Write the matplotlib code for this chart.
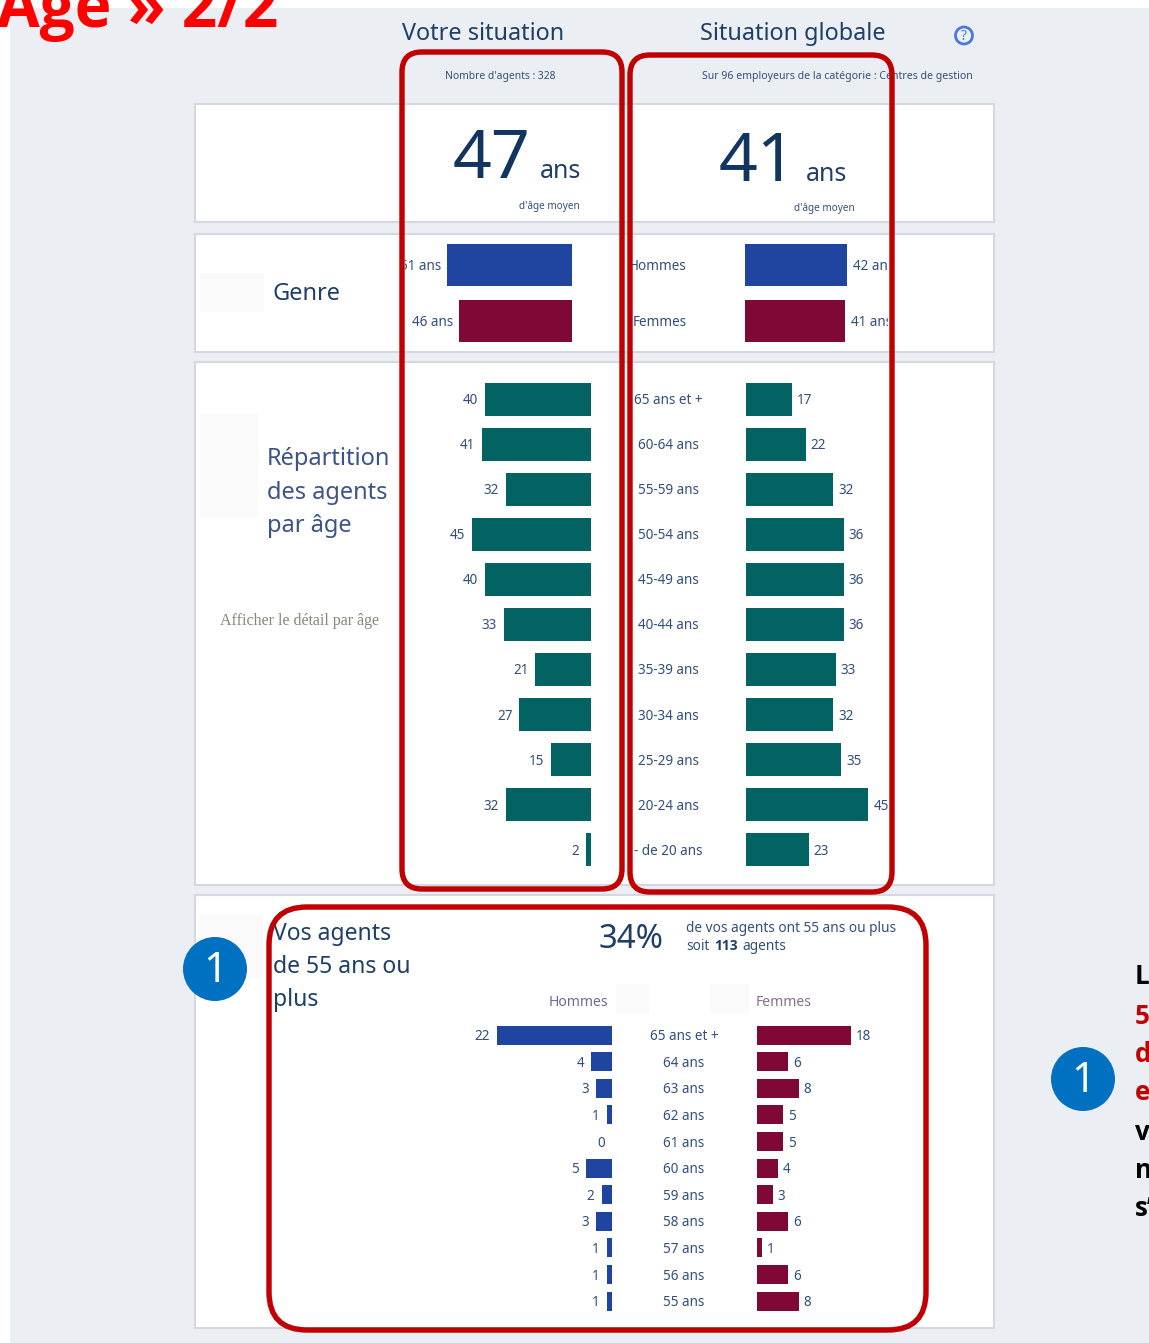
import numpy as np
import matplotlib
matplotlib.use('Agg')
import matplotlib.pyplot as plt
from matplotlib.patches import Rectangle, FancyBboxPatch, Circle

W, H = 1149, 1343

# data
genre_labels = ['Hommes', 'Femmes']
genre_you = [51, 46]
genre_all = [42, 41]

age_labels = ['65 ans et +', '60-64 ans', '55-59 ans', '50-54 ans', '45-49 ans', '40-44 ans',
              '35-39 ans', '30-34 ans', '25-29 ans', '20-24 ans', '- de 20 ans']
age_you = [40, 41, 32, 45, 40, 33, 21, 27, 15, 32, 2]
age_all = [17, 22, 32, 36, 36, 36, 33, 32, 35, 45, 23]

senior_labels = ['65 ans et +', '64 ans', '63 ans', '62 ans', '61 ans', '60 ans',
                 '59 ans', '58 ans', '57 ans', '56 ans', '55 ans']
senior_men = [22, 4, 3, 1, 0, 5, 2, 3, 1, 1, 1]
senior_women = [18, 6, 8, 5, 5, 4, 3, 6, 1, 6, 8]

NAVY = '#1f3f66'
TEXT = '#33507a'
BLUE = '#1f45a0'
MAROON = '#7f0837'
TEAL = '#036363'
RED = '#c00000'
PANEL = '#ebeef3'
BORDER = '#d3d8e3'
BOLD = 'Open Sans'

plt.rcParams['font.family'] = ['Noto Sans', 'DejaVu Sans']


def fs(px):
    return px * 0.72


fig = plt.figure(figsize=(W / 100, H / 100), dpi=100, facecolor='white')


def pixel_axes(z):
    ax = fig.add_axes([0, 0, 1, 1], zorder=z)
    ax.set_xlim(0, W)
    ax.set_ylim(H, 0)
    ax.axis('off')
    return ax


def bar_panel(values, color, origin, scale, x0, x1, first, last, bar_h):
    # origin = pixel of zero, x0 and x1 = pixel limits of the axes
    n = len(values)
    step = (last - first) / (n - 1)
    top = first - step / 2
    bottom = last + step / 2
    ax = fig.add_axes([x0 / W, 1 - bottom / H, (x1 - x0) / W, (bottom - top) / H], zorder=2)
    ax.patch.set_alpha(0)
    ax.axis('off')
    if x1 - origin <= 1:
        # bars grow to the left
        ax.set_xlim((origin - x0) / scale, (origin - x1) / scale)
    else:
        ax.set_xlim((x0 - origin) / scale, (x1 - origin) / scale)
    ax.set_ylim(n - 0.5, -0.5)
    pos = np.arange(n)
    ax.barh(pos, values, height=bar_h / step, color=color, edgecolor='none')
    return ax, pos


def value_labels(ax, pos, values, texts, side, size=13.5, gap=6):
    for p, v, t in zip(pos, values, texts):
        off = -gap if side == 'left' else gap
        ax.annotate(t, (v, p), xytext=(off * 0.72, -1.2), textcoords='offset points',
                    ha='right' if side == 'left' else 'left', va='center',
                    fontsize=fs(size), color=TEXT, clip_on=True)


def cat_labels(ax, pos, labels, dist, ha, size=13.5):
    for p, t in zip(pos, labels):
        ax.annotate(t, (0, p), xytext=(-dist * 0.72, -1.2), textcoords='offset points',
                    ha=ha, va='center', fontsize=fs(size), color=TEXT, clip_on=True)


# background and white panels
bg = pixel_axes(0)
bg.add_patch(Rectangle((10, 8), W - 10, H - 8, color=PANEL, lw=0))
for y0, y1 in [(104, 222), (234, 352), (362, 885), (895, 1328)]:
    bg.add_patch(Rectangle((195, y0), 799, y1 - y0, fc='white', ec=BORDER, lw=1.5))
for x0, x1, y0, y1 in [(200, 264, 273, 312), (200, 258, 413, 517), (199, 263, 915, 978),
                       (616, 649, 984, 1014), (710, 749, 984, 1014)]:
    bg.add_patch(Rectangle((x0, y0), x1 - x0, y1 - y0, color='#fafafa', lw=0))

# page title, cut by the top of the picture
bg.text(-3, 27, 'Age » 2/2', color='#ff0000', fontsize=fs(62), fontweight='bold',
        family=BOLD, va='baseline')

# column heads
bg.text(483.5, 34, 'Votre situation', color=NAVY, fontsize=fs(23.4), ha='center', va='center')
bg.text(793, 34, 'Situation globale', color=NAVY, fontsize=fs(23.4), ha='center', va='center')
bg.text(500.5, 77, "Nombre d'agents : 328", color=TEXT, fontsize=fs(10.3), ha='center', va='center')
bg.text(837.5, 77, 'Sur 96 employeurs de la catégorie : Centres de gestion', color=TEXT,
        fontsize=fs(10.5), ha='center', va='center')
bg.add_patch(Circle((964, 35.5), 8.5, fc='none', ec='#4a78e0', lw=2))
bg.text(964, 36, '?', color='#4a78e0', fontsize=fs(14), ha='center', va='center')

# mean ages
bg.text(453, 178, '47', color='#12355f', fontsize=fs(68), va='baseline')
bg.text(540, 178, 'ans', color=NAVY, fontsize=fs(25), va='baseline')
bg.text(580, 206, "d'âge moyen", color=TEXT, fontsize=fs(10), ha='right', va='center')
bg.text(719, 181, '41', color='#12355f', fontsize=fs(68), va='baseline')
bg.text(806, 181, 'ans', color=NAVY, fontsize=fs(25), va='baseline')
bg.text(855, 209, "d'âge moyen", color=TEXT, fontsize=fs(10), ha='right', va='center')

# section titles
bg.text(272, 294, 'Genre', color=NAVY, fontsize=fs(23.6), va='center')
for y, t in zip([459, 493, 526], ['Répartition', 'des agents', 'par âge']):
    bg.text(267, y, t, color='#3d5288', fontsize=fs(23.6), va='center')
bg.text(299, 621, 'Afficher le détail par âge', color='#8a8578', fontsize=fs(16),
        family='Liberation Serif', ha='center', va='center')
for y, t in zip([934, 967, 1000], ['Vos agents', 'de 55 ans ou', 'plus']):
    bg.text(273, y, t, color=NAVY, fontsize=fs(23), va='center')
bg.text(599, 948, '34%', color=NAVY, fontsize=fs(33), va='baseline')
bg.text(686, 928, 'de vos agents ont 55 ans ou plus', color=TEXT, fontsize=fs(13.7), va='center')
bg.text(686, 946, 'soit', color=TEXT, fontsize=fs(13.7), va='center')
bg.text(714, 946, '113', color=NAVY, fontsize=fs(13.7), fontweight='bold', family=BOLD, va='center')
bg.text(742, 946, 'agents', color=TEXT, fontsize=fs(13.7), va='center')
bg.text(608, 1002, 'Hommes', color='#6f6a9a', fontsize=fs(14), ha='right', va='center')
bg.text(756, 1002, 'Femmes', color='#8a6f8f', fontsize=fs(14), va='center')

# genre bars
ax, pos = bar_panel(genre_you, [BLUE, MAROON], 572, 2.45, 405, 573, 265, 321, 42)
value_labels(ax, pos, genre_you, [f'{v} ans' for v in genre_you], 'left')
ax, pos = bar_panel(genre_all, [BLUE, MAROON], 745, 2.43, 632, 888, 265, 321, 42)
value_labels(ax, pos, genre_all, [f'{v} ans' for v in genre_all], 'right')
cat_labels(ax, pos, genre_labels, 58, 'right')

# age distribution
ax, pos = bar_panel(age_you, TEAL, 591, 2.65, 405, 592, 399, 849.5, 33)
value_labels(ax, pos, age_you, age_you, 'left', gap=7)
ax, pos = bar_panel(age_all, TEAL, 746, 2.72, 632, 888, 399, 849.5, 33)
value_labels(ax, pos, age_all, age_all, 'right', gap=5)
cat_labels(ax, pos, age_labels, 78, 'center')

# agents of 55 and over
ax, pos = bar_panel(senior_men, BLUE, 612, 5.22, 440, 613, 1035, 1301, 19)
value_labels(ax, pos, senior_men, senior_men, 'left', gap=7)
ax, pos = bar_panel(senior_women, MAROON, 757, 5.22, 640, 900, 1035, 1301, 19)
value_labels(ax, pos, senior_women, senior_women, 'right', gap=5)
cat_labels(ax, pos, senior_labels, 73, 'center')

# red frames and callouts on top
top = pixel_axes(5)
top.patch.set_alpha(0)
for x0, y0, x1, y1, r in [(402, 52, 622, 889, 20), (630, 55, 892, 892, 20), (269, 907, 926, 1330, 38)]:
    top.add_patch(FancyBboxPatch((x0 + r, y0 + r), x1 - x0 - 2 * r, y1 - y0 - 2 * r,
                                 boxstyle=f'round,pad={r},rounding_size={r}',
                                 fc='none', ec=RED, lw=3.9))
for cx, cy in [(215, 969), (1083, 1079)]:
    top.add_patch(Circle((cx, cy), 32, fc='#0070c0', ec='none'))
    top.text(cx, cy + 2, '1', color='white', fontsize=fs(42), ha='center', va='center')

# side note, cut by the right edge of the picture
note = ['La', '5', 'd', 'e', 'v', 'n', 's’']
note_colors = ['black', RED, RED, RED, 'black', 'black', 'black']
for y, t, c in zip([977, 1016, 1054, 1093, 1132, 1170, 1209], note, note_colors):
    top.text(1135, y, t, color=c, fontsize=fs(26), fontweight='bold', family=BOLD, va='center')

fig.savefig('out.png', dpi=100)
